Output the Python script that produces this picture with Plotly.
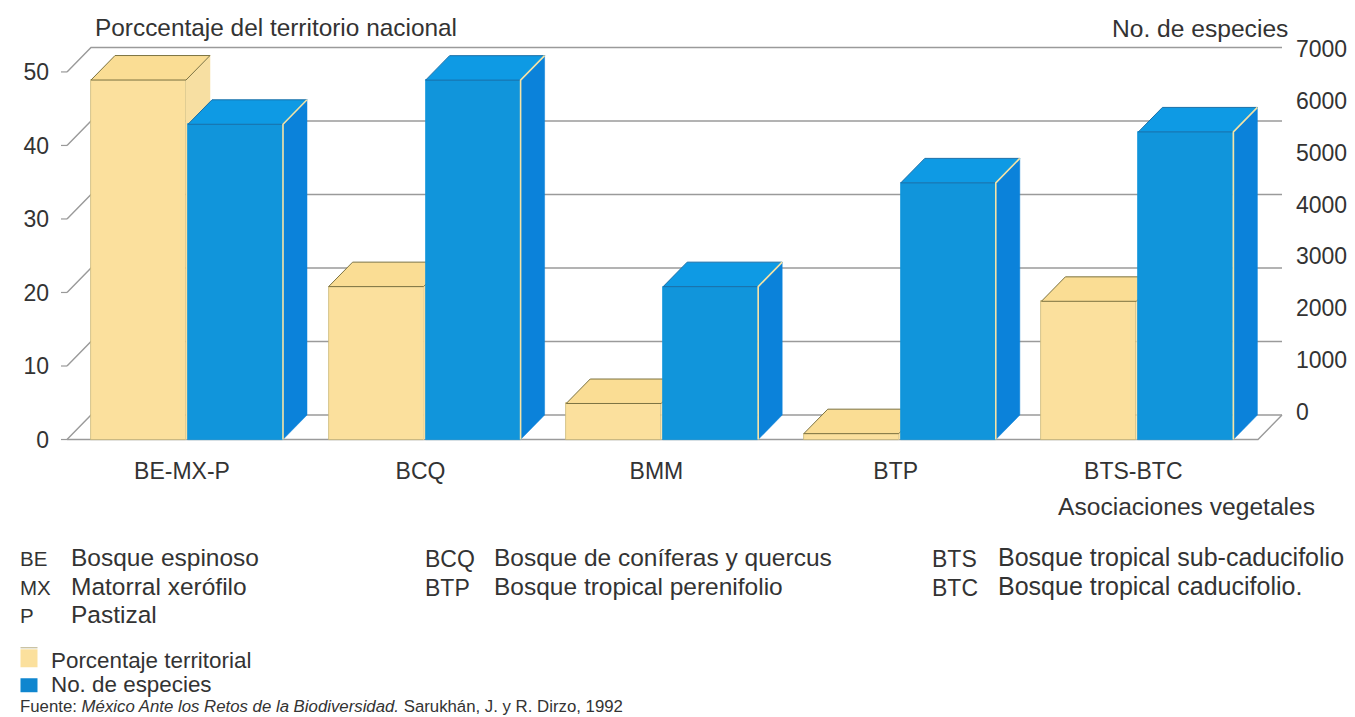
import plotly.graph_objects as go

# ---- data ----
groups = ["BE-MX-P", "BCQ", "BMM", "BTP", "BTS-BTC"]
pct_territory = [48.9, 20.8, 4.9, 0.8, 18.8]
n_species = [6000, 6840, 2910, 4885, 5855]
left_ticks = [0, 10, 20, 30, 40, 50]
right_ticks = [0, 1000, 2000, 3000, 4000, 5000, 6000, 7000]
label_pos = [-0.017, -0.013, -0.02, -0.013, -0.013]
glossary_cols = [
    (18, 69, 20.5, 24.5, [("BE", "Bosque espinoso"), ("MX", "Matorral xerófilo"), ("P", "Pastizal")]),
    (423, 492, 23, 24.5, [("BCQ", "Bosque de coníferas y quercus"), ("BTP", "Bosque tropical perenifolio")]),
    (930, 996, 23, 25, [("BTS", "Bosque tropical sub-caducifolio"), ("BTC", "Bosque tropical caducifolio.")]),
]

OFF = 8  # the page's own body margin
W, H = 1355 - OFF, 717 - OFF
FONT = "Liberation Sans"
INK = "#333333"
GRID = "#9a9a9a"
YEL_F, YEL_T, YEL_S = "#fbe09d", "#fadd94", "#f7dfa2"
BLU_F, BLU_T, BLU_S = "#1195db", "#0e9ae4", "#0b82da"
YEL_EDGE, BLU_EDGE = "#7c7342", "#1a6fa8"

# plot area in reference pixels
PL, PR, PT, PB = OFF, 1355, OFF, 455.5
Y0 = 440
PX_PCT = 7.36
PX_SP = 0.0526
DX_PX, DY_PX = 24, 24.5
GROUP0, STEP = 186.0, 237.6
BW = 95 / STEP
GAP = 2 / STEP
DX = DX_PX / STEP
DY_PCT = DY_PX / PX_PCT
DY_SP = DY_PX / PX_SP

def px(x):
    return (x - PL) / (PR - PL)
def py(y):
    return (PB - y) / (PB - PT)
def xv(x):
    return (x - GROUP0) / STEP

xr = [xv(PL), xv(PR)]
yr = [(Y0 - PB) / PX_PCT, (Y0 - PT) / PX_PCT]
y3r = [(Y0 - PB) / PX_SP, (Y0 - PT) / PX_SP]
RIGHT0, RIGHT_PX = 412.3, 0.0519
y4r = [(RIGHT0 - PB) / RIGHT_PX, (RIGHT0 - PT) / RIGHT_PX]

fig = go.Figure()
xs = list(range(len(groups)))

# walls and floor sit on the base axis, everything else on overlays drawn later
x_front_l, x_front_r = xv(67), xv(1258)
x_back_l, x_back_r = xv(67 + DX_PX), xv(1258 + DX_PX)
for t in left_ticks:
    fig.add_trace(go.Scatter(x=[x_front_l, x_back_l, x_back_r], y=[t, t + DY_PCT, t + DY_PCT],
                             mode="lines", line=dict(color=GRID, width=1.4),
                             hoverinfo="skip", showlegend=False))
fig.add_trace(go.Scatter(x=[x_front_l, x_front_r, x_back_r], y=[0, 0, DY_PCT], mode="lines",
                         line=dict(color=GRID, width=1.4), hoverinfo="skip", showlegend=False))
for t in left_ticks:
    fig.add_trace(go.Scatter(x=[xv(61), x_front_l], y=[t, t], mode="lines",
                             line=dict(color=GRID, width=1.2), hoverinfo="skip", showlegend=False))

def box_faces(x_left, v, dy, yaxis, top, side, edge):
    x_right = x_left + BW
    fig.add_trace(go.Scatter(
        x=[x_right, x_right + DX, x_right + DX, x_right, x_right],
        y=[0, dy, v + dy, v, 0], mode="lines", fill="toself", fillcolor=side,
        line=dict(color=side, width=0.5), yaxis=yaxis, hoverinfo="skip", showlegend=False))
    fig.add_trace(go.Scatter(
        x=[x_left, x_left + DX, x_right + DX, x_right, x_left],
        y=[v, v + dy, v + dy, v, v], mode="lines", fill="toself", fillcolor=top,
        line=dict(color=edge, width=1), yaxis=yaxis, hoverinfo="skip", showlegend=False))

fig.add_trace(go.Bar(x=xs, y=pct_territory, offset=-BW, width=BW, name="Porcentaje territorial",
                     marker=dict(color=YEL_F, line=dict(color="#c9b878", width=0.8)),
                     yaxis="y2", hovertemplate="%{y}%<extra></extra>"))
for i, v in enumerate(pct_territory):
    box_faces(i - BW, v, DY_PCT, "y2", YEL_T, YEL_S, YEL_EDGE)

fig.add_trace(go.Bar(x=xs, y=n_species, offset=GAP, width=BW, name="No. de especies",
                     marker=dict(color=BLU_F, line=dict(color=BLU_F, width=0.8)),
                     yaxis="y3", hovertemplate="%{y}<extra></extra>"))
for i, v in enumerate(n_species):
    box_faces(i + GAP, v, DY_SP, "y3", BLU_T, BLU_S, BLU_EDGE)
    xr_edge = i + GAP + BW
    fig.add_trace(go.Scatter(x=[xr_edge, xr_edge, xr_edge + DX], y=[0, v, v + DY_SP], mode="lines",
                             line=dict(color="#f4e3a6", width=1.6), yaxis="y3",
                             hoverinfo="skip", showlegend=False))
fig.add_trace(go.Scatter(x=[None], y=[None], yaxis="y4", showlegend=False, hoverinfo="skip"))

anns = [
    dict(x=92.5, y=28, text="Porccentaje del territorio nacional", size=24.4),
    dict(x=1110, y=28.5, text="No. de especies", size=24.6),
    dict(x=1056, y=507, text="Asociaciones vegetales", size=24.6),
    dict(x=49, y=661, text="Porcentaje territorial", size=22.4),
    dict(x=49, y=685, text="No. de especies", size=22.4),
    dict(x=17.5, y=707, size=16.8,
         text="Fuente: <i>México Ante los Retos de la Biodiversidad.</i> Sarukhán, J. y R. Dirzo, 1992"),
]
row_y = [558, 587, 615]
for lx, tx, s_abbr, s_name, rows in glossary_cols:
    for (abbr, name), ry in zip(rows, row_y):
        anns.append(dict(x=lx, y=ry + 1.5, text=abbr, size=s_abbr))
        anns.append(dict(x=tx, y=ry, text=name, size=s_name))

annotations = [dict(xref="paper", yref="paper", x=px(a["x"]), y=py(a["y"]), text=a["text"],
                    xanchor="left", yanchor="middle", showarrow=False,
                    font=dict(family=FONT, size=a["size"], color=INK)) for a in anns]

shapes = [
    dict(type="rect", xref="paper", yref="paper", x0=px(20.5), x1=px(37.5), y0=py(668), y1=py(650),
         fillcolor=YEL_F, line=dict(width=0)),
    dict(type="line", xref="paper", yref="paper", x0=px(20.5), x1=px(37.5), y0=py(648.5), y1=py(648.5),
         line=dict(color="#b5ac80", width=1)),
    dict(type="rect", xref="paper", yref="paper", x0=px(20.5), x1=px(37.5), y0=py(693), y1=py(679),
         fillcolor="#0f86cf", line=dict(width=0)),
]

fig.update_layout(
    width=W, height=H, margin=dict(l=PL - OFF, r=1355 - PR, t=PT - OFF, b=717 - PB),
    paper_bgcolor="#ffffff", plot_bgcolor="rgba(0,0,0,0)", bargap=0,
    font=dict(family=FONT, size=23, color=INK),
    showlegend=False,
    annotations=annotations, shapes=shapes,
    xaxis=dict(range=xr, tickmode="array", tickvals=[i + o for i, o in enumerate(label_pos)],
               ticktext=groups, showgrid=False, zeroline=False, showline=False, ticks="",
               tickfont=dict(family=FONT, size=23, color=INK), fixedrange=True),
    yaxis=dict(range=yr, tickmode="array", tickvals=left_ticks, showgrid=False, zeroline=False,
               showline=False, ticks="", tickfont=dict(family=FONT, size=23, color=INK),
               anchor="free", position=px(49), fixedrange=True),
    yaxis2=dict(range=yr, overlaying="y", visible=False, fixedrange=True),
    yaxis3=dict(range=y3r, overlaying="y", visible=False, fixedrange=True),
    yaxis4=dict(range=y4r, overlaying="y", side="right", tickmode="array", tickvals=right_ticks,
                showgrid=False, zeroline=False, showline=False, ticks="", anchor="free",
                position=px(1295), tickfont=dict(family=FONT, size=23, color=INK), fixedrange=True),
)

fig.write_html("out.html")
